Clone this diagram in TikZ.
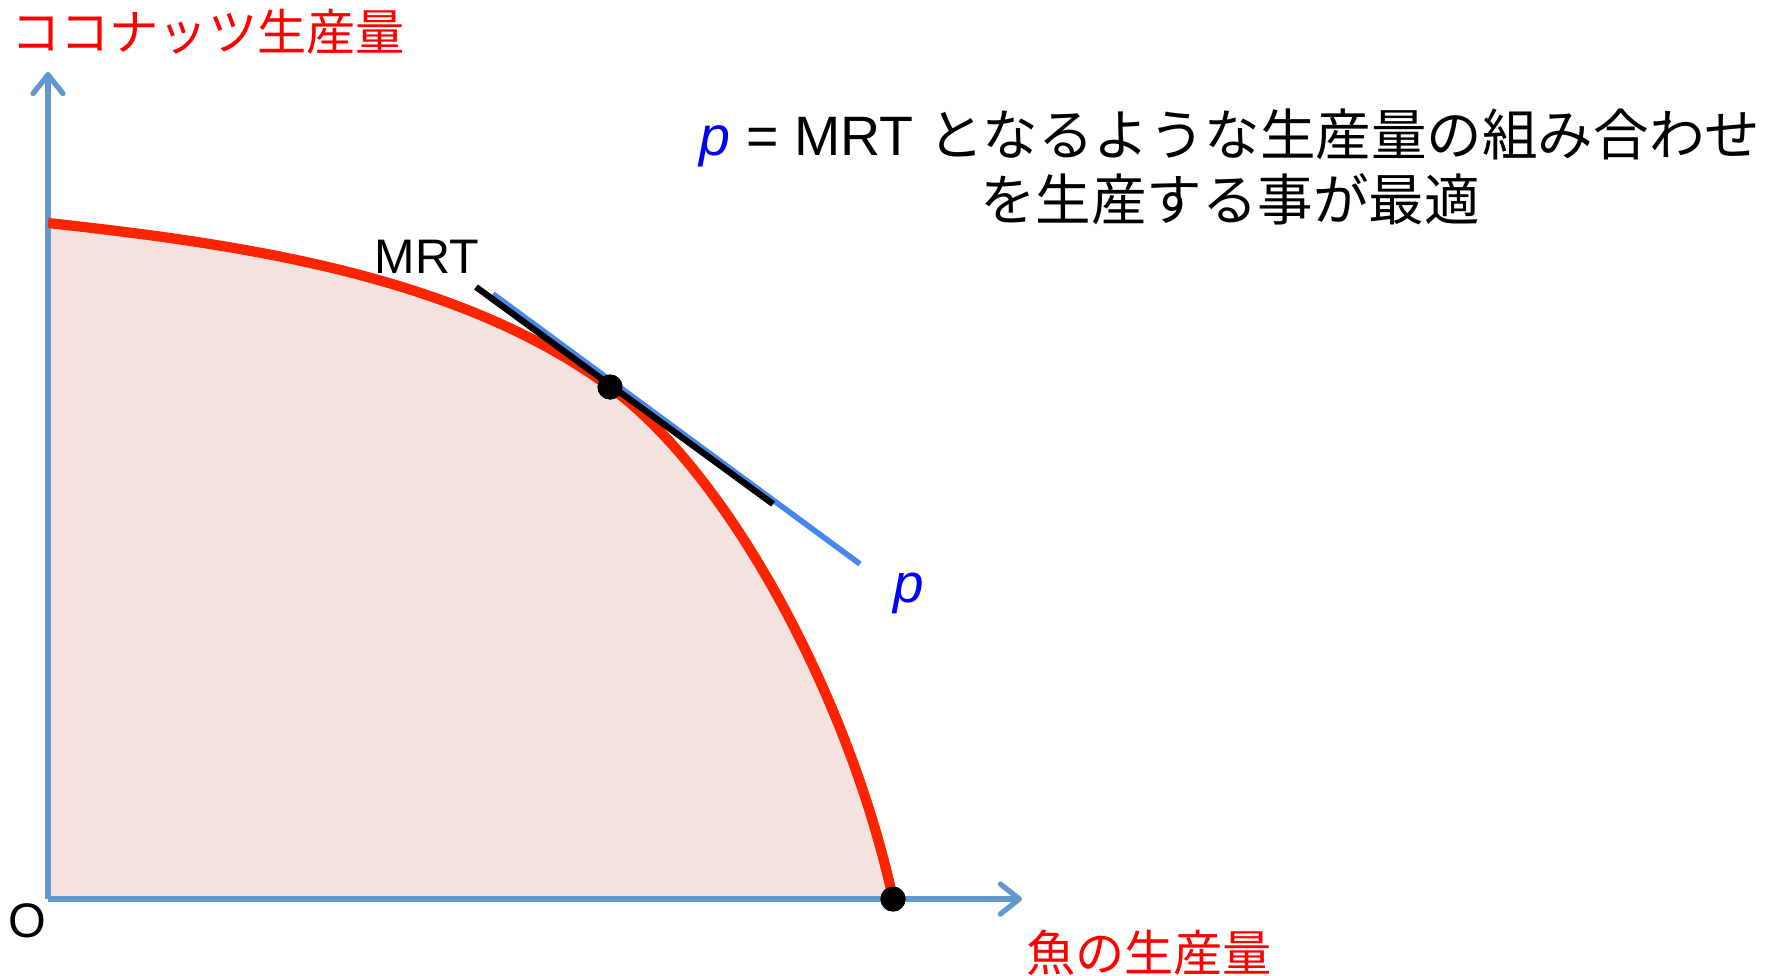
\documentclass[tikz,border=0pt]{standalone}
\usepackage{fontspec}
\setmainfont{Liberation Sans}
\newfontfamily\jpfont{Noto Sans CJK JP}
\usetikzlibrary{
    arrows.meta,
    positioning
}
\definecolor{axisblue}{RGB}{99,152,204}
\definecolor{frontred}{RGB}{255,36,0}
\definecolor{fillpink}{RGB}{244,226,225}
\definecolor{priceblue}{RGB}{72,136,238}

\begin{document}
\begin{tikzpicture}[
    axis/.style={line width=1.5pt, axisblue,
        -{Straight Barb[length=1.9mm, width=3.0mm, round]}},
    axislabel/.style={text=red, font=\jpfont\fontsize{14}{16}\selectfont},
    dot/.style={circle, fill=black, inner sep=0pt, minimum size=2.5mm}
]
    \useasboundingbox (0,0) rectangle (17.91,9.75);
    % feasible set under the frontier
    \fill[fillpink]
        (0.48,7.52) .. controls (2.50,7.30) and (4.60,6.98) ..
        (6.10,5.88) .. controls (7.30,5.00) and (8.50,2.75) ..
        (8.93,0.76) -- (0.48,0.76) -- cycle;
    % axes
    \coordinate (O) at (0.48,0.76);
    \coordinate (ytop) at (0.48,9.03);
    \coordinate (xend) at (10.22,0.76);
    \coordinate (ystart) at (0.48,7.52);
    \draw[axis] (O) -- (ytop);
    \draw[axis] (O) -- (xend);
    % production possibility frontier
    \node[dot] (opt) at (6.10,5.88) {};
    \node[dot] (fishmax) at (8.93,0.76) {};
    \draw[frontred, line width=2.9pt]
        (ystart) .. controls (2.50,7.30) and (4.60,6.98) ..
        (opt.center) .. controls (7.30,5.00) and (8.50,2.75) .. (fishmax.center);
    % price line p and the MRT tangent
    \coordinate (pA) at (4.93,6.81);
    \coordinate (pB) at (8.60,4.11);
    \coordinate (mA) at (4.76,6.88);
    \coordinate (mB) at (7.73,4.71);
    \draw[priceblue, line width=1.6pt] (pA) -- (pB);
    \draw[black, line width=1.8pt] (mA) -- (mB);
    \node[dot] at (opt) {};
    \node[dot] at (fishmax) {};
    % labels
    \node[axislabel] (coconut) at (2.08,9.43) {ココナッツ生産量};
    \node[axislabel] (fish) at (11.49,0.22) {魚の生産量};
    \node[font=\fontsize{13.8}{16}\selectfont] (olabel) at (0.27,0.54) {O};
    \node[font=\fontsize{13.8}{16}\selectfont] (mrtlabel) at (4.27,7.18) {MRT};
    \node[text=blue, font=\itshape\fontsize{15.6}{18}\selectfont] (plabel) at (9.09,3.82) {p};
    \node[align=center, font=\fontsize{15.8}{18.5}\selectfont] (optimal) at (12.30,8.08)
        {{\itshape\color{blue}p} = MRT {\jpfont となるような生産量の組み合わせ}\\
         {\jpfont を生産する事が最適}};
\end{tikzpicture}
\end{document}
